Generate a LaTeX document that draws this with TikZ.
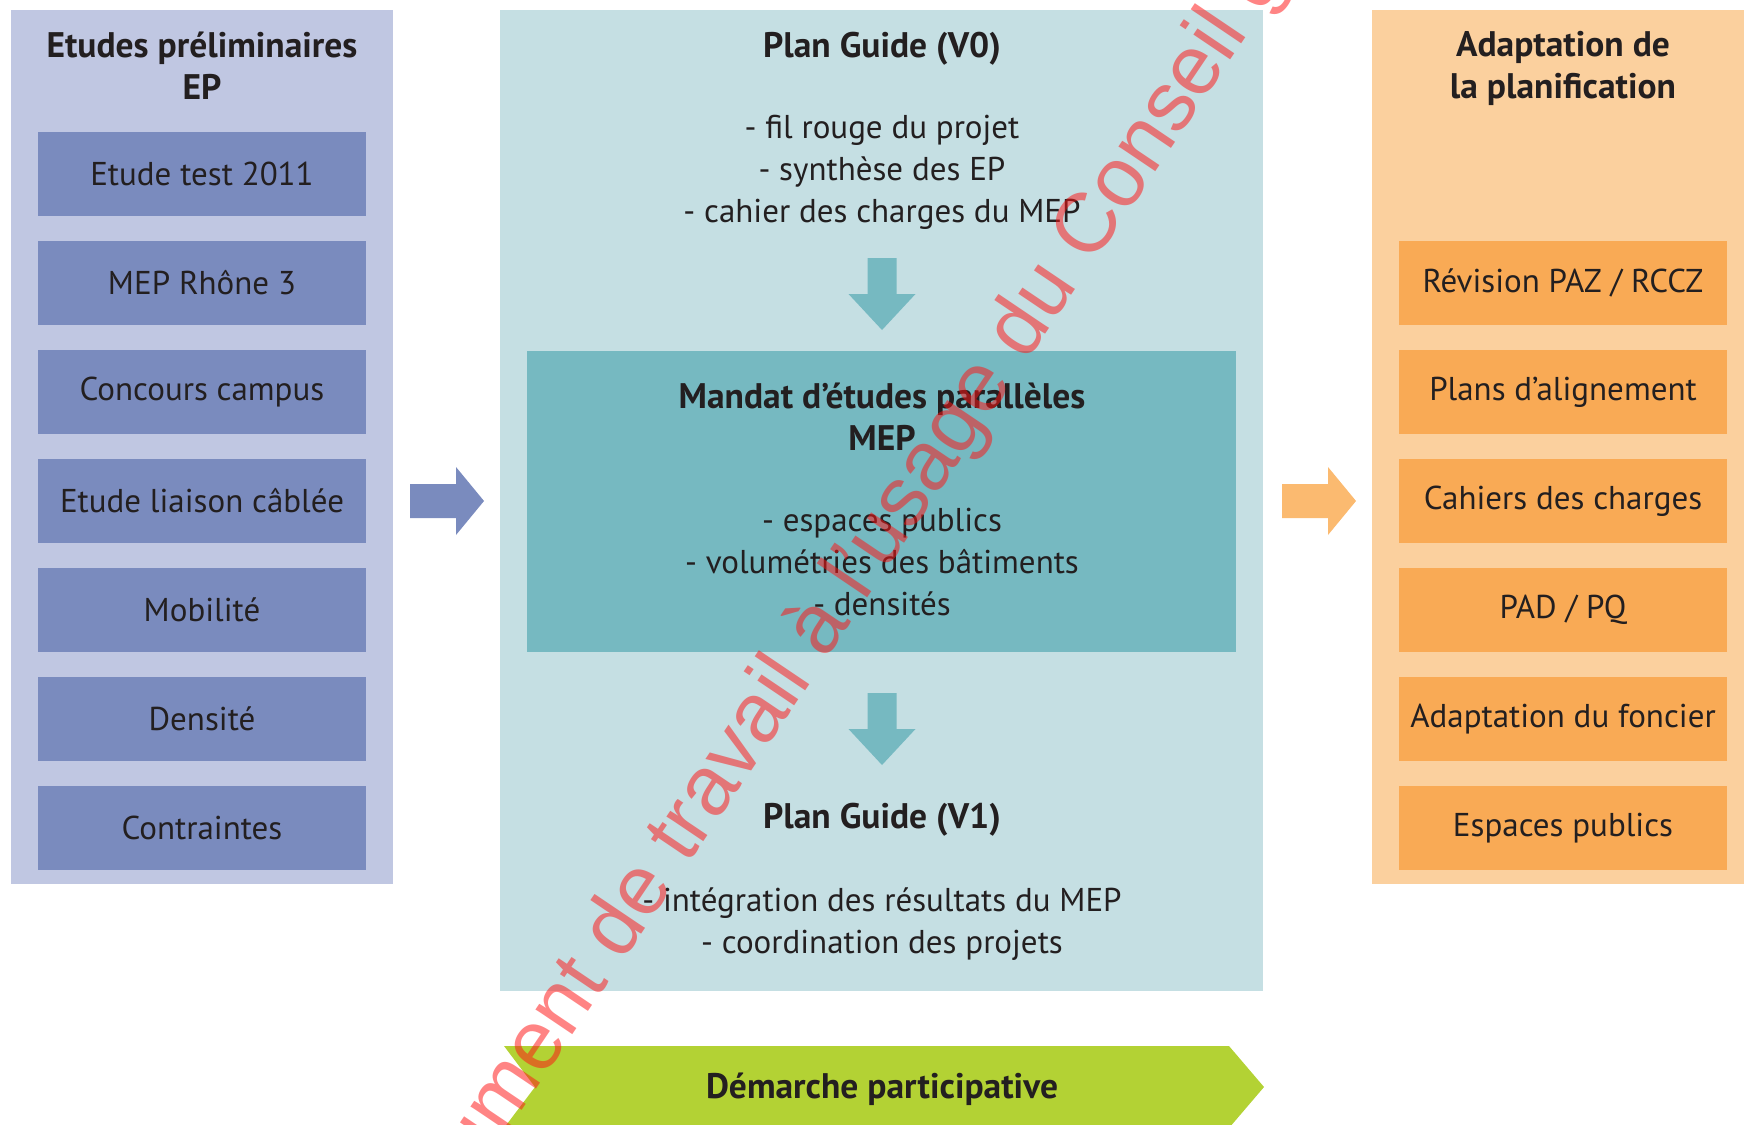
\documentclass[tikz,border=0pt]{standalone}
\usepackage{fontspec}
\setmainfont{PT Sans}
\newfontfamily\wmfont{Liberation Sans}
\usetikzlibrary{positioning,calc}
\definecolor{ink}{HTML}{231F20}
\definecolor{epback}{HTML}{C0C7E2}
\definecolor{epbox}{HTML}{7A8BBE}
\definecolor{pgback}{HTML}{C5DFE3}
\definecolor{pgbox}{HTML}{76B9C1}
\definecolor{apback}{HTML}{FBD09E}
\definecolor{apbox}{HTML}{F9AA55}
\definecolor{aparrow}{HTML}{FBBA70}
\definecolor{dpgreen}{HTML}{B3D234}
\definecolor{wmred}{HTML}{FF1414}
\tikzset{
  panel/.style={anchor=north west,inner sep=0pt,outer sep=0pt},
  itembox/.style={minimum width=328pt,minimum height=84pt,inner sep=0pt,text=ink,
    font=\fontsize{33}{41.7}\selectfont},
  heading/.style={align=center,text=ink,inner sep=0pt,font=\fontsize{35.5}{41.7}\selectfont\bfseries},
  bullets/.style={align=center,text=ink,inner sep=0pt,font=\fontsize{33}{41.7}\selectfont},
  watermark/.style={text=wmred,text opacity=0.52,inner sep=0pt,font=\fontsize{84}{84}\selectfont\wmfont}
}
\begin{document}
\begin{tikzpicture}[x=1pt,y=-1pt]
  \useasboundingbox (0,0) rectangle (1744,1124);
  \clip (0,0) rectangle (1744,1124);
  % three columns
  \node[panel,fill=epback,minimum width=382pt,minimum height=874pt] (ep) at (11,10) {};
  \node[panel,fill=pgback,minimum width=763pt,minimum height=981pt] (pg) at (500,10) {};
  \node[panel,fill=apback,minimum width=380pt,minimum height=874pt] (ap) at (1372,10) {};
  % left column
  \node[heading] (ep-title) at (202,66) {Etudes préliminaires\\EP};
  \foreach \txt [count=\i] in {Etude test 2011,MEP Rhône 3,Concours campus,
      Etude liaison câblée,Mobilité,Densité,Contraintes}{
    \node[itembox,fill=epbox] (EP-\i) at (202,65+109*\i) {\txt};
  }
  % right column
  \node[heading] (ap-title) at (1563,68.5) {Adaptation de\\la planification};
  \foreach \txt [count=\i from 2] in {Révision PAZ / RCCZ,Plans d’alignement,
      Cahiers des charges,PAD / PQ,Adaptation du foncier,Espaces publics}{
    \node[itembox,fill=apbox] (AP-\i) at (1563,65+109*\i) {\txt};
  }
  % middle column
  \node[heading] (v0-title) at (882,48.5) {Plan Guide (V0)};
  \node[bullets] (v0-list) at (882,172.5) {- fil rouge du projet\\- synthèse des EP\\- cahier des charges du MEP};
  \node[panel,fill=pgbox,minimum width=709pt,minimum height=301pt] (mep) at (527,351) {};
  \node[heading] (mep-title) at (882,417) {Mandat d’études parallèles\\MEP};
  \node[bullets] (mep-list) at (882,562) {- espaces publics\\- volumétries des bâtiments\\- densités};
  \node[heading] (v1-title) at (882,820) {Plan Guide (V1)};
  \node[bullets] (v1-list) at (882,924) {- intégration des résultats du MEP\\- coordination des projets};
  % down arrows
  \coordinate (d1) at (882,258);
  \coordinate (d2) at (882,693);
  \foreach \c in {d1,d2}{
    \fill[pgbox] (\c) ++(-14.5,0) -- ++(29,0) -- ++(0,36) -- ++(19,0) -- ++(-33.5,36)
      -- ++(-33.5,-36) -- ++(19,0) -- cycle;
  }
  % side arrows
  \path (ep.east |- EP-4) ++(17,0) coordinate (aL);
  \path (pg.east |- EP-4) ++(19,0) coordinate (aR);
  \fill[epbox] (aL) ++(0,-17) -- ++(46,0) -- ++(0,-17) -- ++(28,34) -- ++(-28,34)
    -- ++(0,-17) -- ++(-46,0) -- cycle;
  \fill[aparrow] (aR) ++(0,-17) -- ++(46,0) -- ++(0,-17) -- ++(28,34) -- ++(-28,34)
    -- ++(0,-17) -- ++(-46,0) -- cycle;
  % participative band
  \fill[dpgreen] (504,1046) -- (1229,1046) -- (1264,1087) -- (1229,1128) -- (504,1128)
    -- (535,1087) -- cycle;
  \node[heading] (dp) at (882,1089) {Démarche participative};
  % watermark
  \node[watermark,anchor=base west,rotate=56] (wm) at (395,1299)
    {Document de travail à l’usage du Conseil général};
\end{tikzpicture}
\end{document}
